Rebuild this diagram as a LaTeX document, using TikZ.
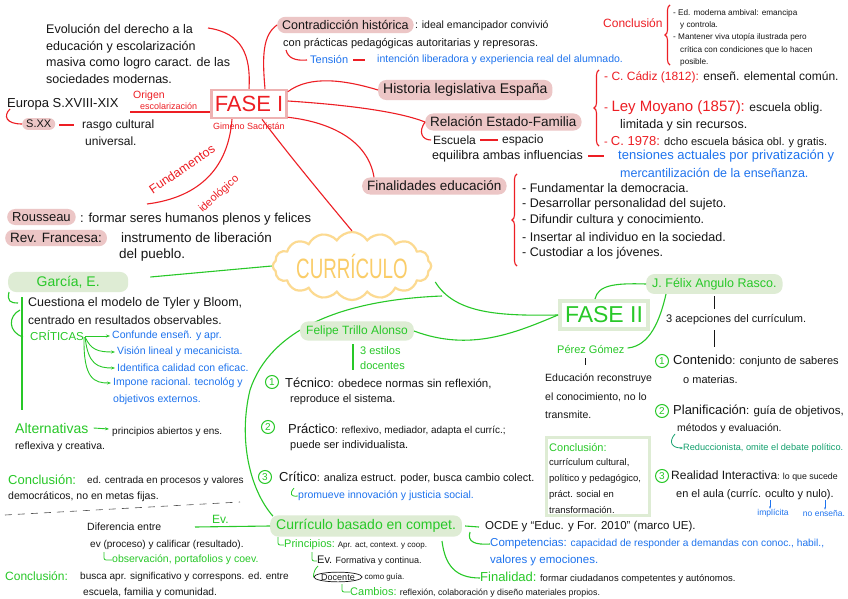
\documentclass[tikz,border=0pt]{standalone}
\usepackage{fontspec}
\setmainfont{Liberation Sans}
\usetikzlibrary{shapes.symbols,shapes.geometric,arrows.meta,decorations.pathreplacing,calc}
\definecolor{cred}{RGB}{237,30,36}
\definecolor{cpink}{RGB}{236,198,198}
\definecolor{cpinkb}{RGB}{238,178,178}
\definecolor{cblue}{RGB}{30,115,238}
\definecolor{cgreen}{RGB}{40,200,40}
\definecolor{cgreenl}{RGB}{222,236,212}
\definecolor{cyel}{RGB}{252,218,145}
\definecolor{cyelt}{RGB}{250,205,105}
\definecolor{cteal}{RGB}{20,160,110}
\definecolor{cink}{RGB}{22,22,22}
\newcommand{\fz}[1]{\fontsize{#1}{#1}\selectfont}
\begin{document}
\begin{tikzpicture}[x=1pt,y=-1pt,
  t/.style={anchor=west, inner sep=0pt, text=cink},
  pp/.style={fill=cpink, rounded corners=8pt, inner xsep=5pt, inner ysep=3.5pt, anchor=west, text=cink},
  gp/.style={fill=cgreenl, rounded corners=8pt, inner xsep=6pt, inner ysep=4pt, anchor=west, text=cgreen},
  rl/.style={draw=cred, line width=1.1pt},
  gl/.style={draw=cgreen, line width=1.1pt},
  kl/.style={draw=cink, line width=0.6pt},
  num/.style={circle, draw=cgreen, line width=1pt, text=cgreen, inner sep=0pt, minimum size=13pt, font=\fz{10}},
  brc/.style={draw=cred, line width=1.1pt, decorate, decoration={brace, amplitude=5pt}},
  garr/.style={draw=cgreen, line width=0.9pt, -{Stealth[length=4pt]}}
]
\useasboundingbox (0,0) rectangle (848,599);
\fill[white] (0,0) rectangle (848,599);

% ---------- FASE I ----------
\node[draw=cpinkb, line width=2.5pt, fill=white, text=cred, font=\fz{22}, minimum width=75pt, minimum height=28pt, inner sep=2pt] (fase1) at (249,104) {FASE I};
\node[text=cred, font=\fz{9}, inner sep=0pt] (gim) at (249,126) {Gimeno Sacristán};

\node[t, font=\fz{12.5}] (ev1) at (46,29) {Evolución del derecho a la};
\node[t, font=\fz{12.5}] (ev2) at (46,47) {educación y escolarización};
\node[t, font=\fz{12.5}] (ev3) at (46,63) {masiva como logro caract. de las};
\node[t, font=\fz{12.5}] (ev4) at (46,79) {sociedades modernas.};
\draw[rl] (fase1.north) .. controls (251,55) and (242,33) .. ($(ev1.east)+(15,-1)$);

\node[t, font=\fz{13}] (eu) at (7,104) {Europa S.XVIII-XIX};
\node[pp, font=\fz{11}, rounded corners=6pt, inner ysep=2pt, inner xsep=4pt] (sxx) at (22,124) {S.XX};
\draw[rl] (10,109) .. controls (3,116) and (6,124) .. (sxx.west);
\node[t, font=\fz{12}] (rc1) at (82,125) {rasgo cultural};
\node[t, font=\fz{12}] (rc2) at (85,141) {universal.};
\draw[rl] ($(sxx.east)+(4,1)$) -- ($(rc1.west)+(-8,0)$);
\node[t, text=cred, font=\fz{10.5}] (or1) at (133,96) {Origen};
\node[t, text=cred, font=\fz{9}] (or2) at (140,106) {escolarización};
\draw[rl] (130,112) -- (fase1.west |- {(0,112)});

\node[pp, font=\fz{12.5}] (contr) at (277,25) {Contradicción histórica};
\node[t, font=\fz{10.5}] (contr2) at ($(contr.east)+(1,1)$) {: ideal emancipador convivió};
\node[t, font=\fz{11}] (contr3) at (283,44) {con prácticas pedagógicas autoritarias y represoras.};
\draw[rl] ($(fase1.north)+(16,0)$) .. controls (262,55) and (263,35) .. (contr.west);
\node[t, text=cblue, font=\fz{11}] (tens) at (310,60) {Tensión};
\draw[rl] (286,50) .. controls (288,58) and (295,61) .. ($(tens.west)+(-3,0)$);
\draw[rl] ($(tens.east)+(5,0)$) -- ($(tens.east)+(17,0)$);
\node[t, text=cblue, font=\fz{10.5}] (tens2) at (377,60) {intención liberadora y experiencia real del alumnado.};

\node[t, text=cred, font=\fz{12}] (concl) at (603,23) {Conclusión};
\draw[brc] (670,65) -- (670,5);
\node[t, font=\fz{8.2}] (cc1) at (673,13) {- Ed. moderna ambival: emancipa};
\node[t, font=\fz{8.2}] (cc2) at (680,25) {y controla.};
\node[t, font=\fz{8.2}] (cc3) at (673,37) {- Mantener viva utopía ilustrada pero};
\node[t, font=\fz{8.2}] (cc4) at (680,50) {crítica con condiciones que lo hacen};
\node[t, font=\fz{8.2}] (cc5) at (680,62) {posible.};

\node[pp, font=\fz{14}] (hist) at (378,90) {Historia legislativa España};
\draw[rl] ($(fase1.north east)+(0,3)$) .. controls (310,75) and (345,80) .. (hist.west);
\draw[brc] (599,146) -- (599,70);
\node[t, font=\fz{12}] (cad) at (604,77) {\textcolor{cred}{- C. Cádiz (1812):} enseñ. elemental común.};
\node[t, font=\fz{12}] (moy) at (604,108) {\textcolor{cred}{- \fz{15}Ley Moyano (1857):} escuela oblig.};
\node[t, font=\fz{12.5}] (moy2) at (620,125) {limitada y sin recursos.};
\node[t, font=\fz{11}] (c78) at (604,142) {\textcolor{cred}{- \fz{13}C. 1978:} dcho escuela básica obl. y gratis.};

\node[pp, font=\fz{13.5}] (rel) at (425,122) {Relación Estado-Familia};
\draw[rl] ($(fase1.east)+(0,-3)$) .. controls (350,105) and (400,112) .. (rel.west);
\node[t, font=\fz{12}] (esc) at (433,140) {Escuela};
\draw[rl] (rel.west) .. controls (418,132) and (422,140) .. ($(esc.west)+(-2,0)$);
\node[t, font=\fz{12}] (esp) at (502,140) {espacio};
\draw[rl] ($(esc.east)+(4,0)$) -- ($(esp.west)+(-4,0)$);
\node[t, font=\fz{12.5}] (equi) at (432,156) {equilibra ambas influencias};
\draw[rl] ($(equi.east)+(5,0)$) -- ($(equi.east)+(21,0)$);
\node[t, text=cblue, font=\fz{13}] (tens3) at (618,156) {tensiones actuales por privatización y};
\node[t, text=cblue, font=\fz{12.5}] (tens4) at (620,173) {mercantilización de la enseñanza.};

\node[pp, font=\fz{13.5}] (fin) at (362,186) {Finalidades educación};
\draw[rl] ($(fase1.south east)+(0,-2)$) .. controls (330,122) and (368,140) .. ($(fin.north west)+(12,0)$);
\draw[brc] (517,266) -- (517,174);
\node[t, font=\fz{12.5}] (f1) at (522,188) {- Fundamentar la democracia.};
\node[t, font=\fz{12.5}] (f2) at (522,204) {- Desarrollar personalidad del sujeto.};
\node[t, font=\fz{12.5}] (f3) at (522,220) {- Difundir cultura y conocimiento.};
\node[t, font=\fz{12.5}] (f4) at (522,237) {- Insertar al individuo en la sociedad.};
\node[t, font=\fz{12.5}] (f5) at (522,253) {- Custodiar a los jóvenes.};

% Fundamentos ideologico
\draw[rl] ($(fase1.south)+(-17,0)$) .. controls (228,172) and (195,198) .. (147,204);
\node[text=cred, font=\fz{12.5}, rotate=34, inner sep=0pt] (fund) at (182,169) {Fundamentos};
\node[text=cred, font=\fz{11}, rotate=42, inner sep=0pt] (ideo) at (219,194) {ideológico};

\node[pp, font=\fz{13}] (rous) at (7,217) {Rousseau};
\node[t, font=\fz{13}] (rous2) at (80,219) {: formar seres humanos plenos y felices};
\node[pp, font=\fz{13.5}] (rev) at (5,238) {Rev. Francesa:};
\node[t, font=\fz{13.5}] (rev2) at (121,238) {instrumento de liberación};
\node[t, font=\fz{13.5}] (rev3) at (119,255) {del pueblo.};

% ---------- CURRICULO ----------
\node[cloud, cloud puffs=16, cloud puff arc=115, cloud ignores aspect, draw=cyel, line width=2.2pt, fill=white, minimum width=152pt, minimum height=68pt, inner sep=0pt] (curr) at (352,266) {\scalebox{0.67}[1]{\color{cyelt}\fz{28}CURRÍCULO}};
\draw[rl] ($(fase1.south)+(13,0)$) .. controls (285,150) and (322,195) .. (curr.north);

% ---------- Curriculo basado en competencias (node first) ----------
\node[gp, font=\fz{14}] (cbc) at (270,526) {Currículo basado en compet.};
\coordinate (cbcA) at ($(cbc.north west)+(3,1)$);

% ---------- FASE II ----------
\node[draw=cgreenl, line width=4pt, fill=white, text=cgreen, font=\fz{23}, minimum width=88pt, minimum height=28pt, inner sep=2pt] (fase2) at (604,315) {FASE II};
\coordinate (cl) at ($(curr.east)+(3,16)$);
\coordinate (br) at (442,296);
\draw[gl] (cl) .. controls (455,314) and (500,316) .. (fase2.west);
\draw[gl] (br) .. controls (340,300) and (270,330) .. (250,390) .. controls (238,440) and (250,490) .. (cbcA);

\node[gp, font=\fz{12.5}] (jfel) at (646,284) {J. Félix Angulo Rasco.};
\draw[gl] ($(fase2.north)+(-9,0)$) .. controls (598,285) and (615,283) .. (jfel.west);
\node[t, text=cgreen, font=\fz{11}] (pg) at (557,350) {Pérez Gómez};
\draw[gl] ($(pg.east)+(3,-2)$) .. controls (650,346) and (660,320) .. ($(jfel.south west)+(20,0)$);
\draw[kl] (585,358) -- (585,365);
\node[t, font=\fz{10.5}] (ed1) at (545,379) {Educación reconstruye};
\node[t, font=\fz{10.5}] (ed2) at (545,397) {el conocimiento, no lo};
\node[t, font=\fz{10.5}] (ed3) at (545,415) {transmite.};

\node[draw=cgreenl, line width=2.5pt, minimum width=103pt, minimum height=78pt, anchor=north west, inner sep=0pt] (cbox) at (545,436) {};
\node[t, text=cgreen, font=\fz{11}] (cb1) at (549,447) {Conclusión:};
\node[t, font=\fz{9.5}] (cb2) at (549,463) {currículum cultural,};
\node[t, font=\fz{9.5}] (cb3) at (549,479) {político y pedagógico,};
\node[t, font=\fz{9.5}] (cb4) at (549,495) {práct. social en};
\node[t, font=\fz{9.5}] (cb5) at (549,510) {transformación.};

\draw[kl] (714,296) -- (714,309);
\node[t, font=\fz{11}] (acep) at (666,320) {3 acepciones del currículum.};
\draw[kl] (714,330) -- (714,347);
\node[num] (n1) at (662,361) {1};
\node[t, font=\fz{11}] (cont) at (673,361) {\fz{13}Contenido\fz{11}: conjunto de saberes};
\node[t, font=\fz{11}] (cont2) at (683,380) {o materias.};
\node[num] (n2) at (662,411) {2};
\node[t, font=\fz{11.5}] (plan) at (673,411) {\fz{13}Planificación\fz{11.5}: guía de objetivos,};
\node[t, font=\fz{10.5}] (plan2) at (677,429) {métodos y evaluación.};
\node[t, text=cteal, font=\fz{9.2}] (redu) at (683,448) {Reduccionista, omite el debate político.};
\draw[cteal, line width=0.8pt, -{Stealth[length=3pt]}] (675,434) .. controls (668,442) and (672,448) .. (redu.west);
\node[num] (n3) at (662,476) {3};
\node[t, font=\fz{8.8}] (real) at (671,476) {\fz{12}Realidad Interactiva\fz{8.8}: lo que sucede};
\node[t, font=\fz{11}] (real2) at (676,495) {en el aula (curríc. oculto y nulo).};
\node[text=cblue, font=\fz{8.5}, inner sep=0pt] (impl) at (773,513) {implícita};
\node[text=cblue, font=\fz{8.5}, inner sep=0pt] (noen) at (824,513) {no enseña.};
\draw[cblue, line width=0.6pt, -{Stealth[length=2.5pt]}] (770,500) -- (impl.north -| {(770,0)});
\draw[cblue, line width=0.6pt, -{Stealth[length=2.5pt]}] (825,500) -- (noen.north -| {(825,0)});

% ---------- Felipe Trillo ----------
\node[gp, font=\fz{12}] (fel) at (300,331) {Felipe Trillo Alonso};
\draw[gl] (fel.east) .. controls (470,352) and (515,333) .. (fase2.west);
\draw[gl] (353,344) -- (353,370);
\node[t, text=cgreen, font=\fz{11}] (est1) at (360,351) {3 estilos};
\node[t, text=cgreen, font=\fz{11}] (est2) at (360,366) {docentes};
\node[num] (m1) at (272,382) {1};
\node[t, font=\fz{11.5}] (tec) at (285,383) {\fz{13}Técnico\fz{11.5}: obedece normas sin reflexión,};
\node[t, font=\fz{11}] (tec2) at (290,400) {reproduce el sistema.};
\node[num] (m2) at (268,427) {2};
\node[t, font=\fz{10}] (pra) at (288,430) {\fz{13}Práctico\fz{10}: reflexivo, mediador, adapta el curríc.;};
\node[t, font=\fz{11}] (pra2) at (290,446) {puede ser individualista.};
\node[num] (m3) at (265,477) {3};
\node[t, font=\fz{10.8}] (cri) at (279,478) {\fz{13}Crítico\fz{10.8}: analiza estruct. poder, busca cambio colect.};
\node[t, text=cblue, font=\fz{10.5}] (prom) at (298,496) {promueve innovación y justicia social.};
\draw[gl, line width=0.8pt] (294,488) .. controls (289,494) and (291,497) .. (prom.west);

% ---------- Garcia ----------
\node[gp, font=\fz{14}, minimum width=120pt] (garc) at (8,282) {García, E.};
\draw[gl] ($(garc.east)+(22,-5)$) -- (curr.west);
\draw[gl] (22,297) -- (22,410);
\draw[gl] (9,292) .. controls (7,301) and (10,303) .. (18,303);
\draw[gl] (20,310) .. controls (8,316) and (8,332) .. (23,337);
\node[t, font=\fz{12.5}] (cue1) at (28,303) {Cuestiona el modelo de Tyler y Bloom,};
\node[t, font=\fz{12}] (cue2) at (28,320) {centrado en resultados observables.};
\node[t, text=cgreen, font=\fz{11.5}] (crit) at (30,336) {CRÍTICAS};
\node[t, text=cblue, font=\fz{10.5}] (b1) at (112,336) {Confunde enseñ. y apr.};
\node[t, text=cblue, font=\fz{10.5}] (b2) at (117,352) {Visión lineal y mecanicista.};
\node[t, text=cblue, font=\fz{10.5}] (b3) at (117,368) {Identifica calidad con eficac.};
\node[t, text=cblue, font=\fz{10.5}] (b4) at (113,383) {Impone racional. tecnológ y};
\node[t, text=cblue, font=\fz{10.5}] (b5) at (113,400) {objetivos externos.};
\draw[garr] ($(crit.east)+(1,0)$) -- ($(b1.west)+(-2,0)$);
\draw[garr] ($(crit.east)+(1,1)$) .. controls (91,350) and (98,352) .. ($(b2.west)+(-2,0)$);
\draw[garr] ($(crit.east)+(1,1)$) .. controls (88,365) and (98,368) .. ($(b3.west)+(-2,0)$);
\draw[garr] ($(crit.east)+(0,1)$) .. controls (83,380) and (95,383) .. ($(b4.west)+(-2,0)$);
\node[t, text=cgreen, font=\fz{14}] (alt) at (15,428) {Alternativas};
\node[t, font=\fz{10}] (alt2) at (112,432) {principios abiertos y ens.};
\draw[garr] ($(alt.east)+(5,0)$) -- ($(alt2.west)+(-3,-3)$);
\node[t, font=\fz{10.5}] (alt3) at (15,447) {reflexiva y creativa.};
\node[t, text=cgreen, font=\fz{13}] (con1) at (8,480) {Conclusión:};
\node[t, font=\fz{10}] (con2) at (87,481) {ed. centrada en procesos y valores};
\node[t, font=\fz{10.5}] (con3) at (8,497) {democráticos, no en metas fijas.};
\draw[draw=cink!75, line width=0.6pt, dash pattern=on 7pt off 6pt] (5,515) -- (240,502);

% ---------- Curriculo basado: details ----------
\node[t, text=cgreen, font=\fz{12}] (evv) at (212,519) {Ev.};
\draw[gl] (195,527) -- (cbc.west);
\node[t, font=\fz{10.5}] (dif1) at (87,527) {Diferencia entre};
\node[t, font=\fz{10}] (dif2) at (90,545) {ev (proceso) y calificar (resultado).};
\node[t, text=cgreen, font=\fz{10.5}] (obs) at (112,560) {observación, portafolios y coev.};
\draw[gl, line width=0.8pt, rounded corners=2pt] (104,552) -- (104,560) -- (obs.west);
\node[t, text=cgreen, font=\fz{12}] (con4) at (5,576) {Conclusión:};
\node[t, font=\fz{10}] (con5) at (80,577) {busca apr. significativo y correspons. ed. entre};
\node[t, font=\fz{10.2}] (con6) at (83,593) {escuela, familia y comunidad.};

\node[t, font=\fz{8}] (pri) at (284,545) {\textcolor{cgreen}{\fz{11}Principios:} Apr. act, context. y coop.};
\draw[gl, line width=0.8pt, rounded corners=2pt] (278,537) -- (278,545) -- (pri.west);
\node[t, font=\fz{9}] (evf) at (317,561) {\fz{11}Ev.\fz{9} Formativa y continua.};
\draw[gl, line width=0.8pt, rounded corners=2pt] (312,552) -- (312,561) -- (evf.west);
\node[ellipse, draw=cink, line width=0.7pt, inner sep=0.3pt, font=\fz{9}, text=cink] (doc) at (338,577) {Docente};
\node[t, font=\fz{8}] (docg) at ($(doc.east)+(2,0)$) {como guía.};
\draw[gl, line width=0.8pt] (318,566) .. controls (312,572) and (314,577) .. (doc.west);
\node[t, font=\fz{8.8}] (camb) at (350,592) {\textcolor{cgreen}{\fz{11}Cambios:} reflexión, colaboración y diseño materiales propios.};
\draw[gl, line width=0.8pt, rounded corners=2pt] (342,584) -- (342,592) -- (camb.west);

\node[t, font=\fz{11.5}] (ocde) at (485,527) {OCDE y “Educ. y For. 2010” (marco UE).};
\draw[gl] ($(cbc.east)+(3,0)$) -- ($(ocde.west)+(-6,0)$);
\node[t, text=cblue, font=\fz{10.2}] (comp) at (490,544) {\fz{11.5}Competencias:\fz{10.2} capacidad de responder a demandas con conoc., habil.,};
\node[t, text=cblue, font=\fz{11.5}] (comp2) at (490,561) {valores y emociones.};
\draw[gl] (470,532) .. controls (467,542) and (475,545) .. (comp.west);
\node[t, font=\fz{9.5}] (finl) at (480,578) {\textcolor{cgreen}{\fz{13}Finalidad:} formar ciudadanos competentes y autónomos.};
\draw[gl] (442,541) .. controls (445,565) and (455,578) .. (finl.west);
\end{tikzpicture}
\end{document}
